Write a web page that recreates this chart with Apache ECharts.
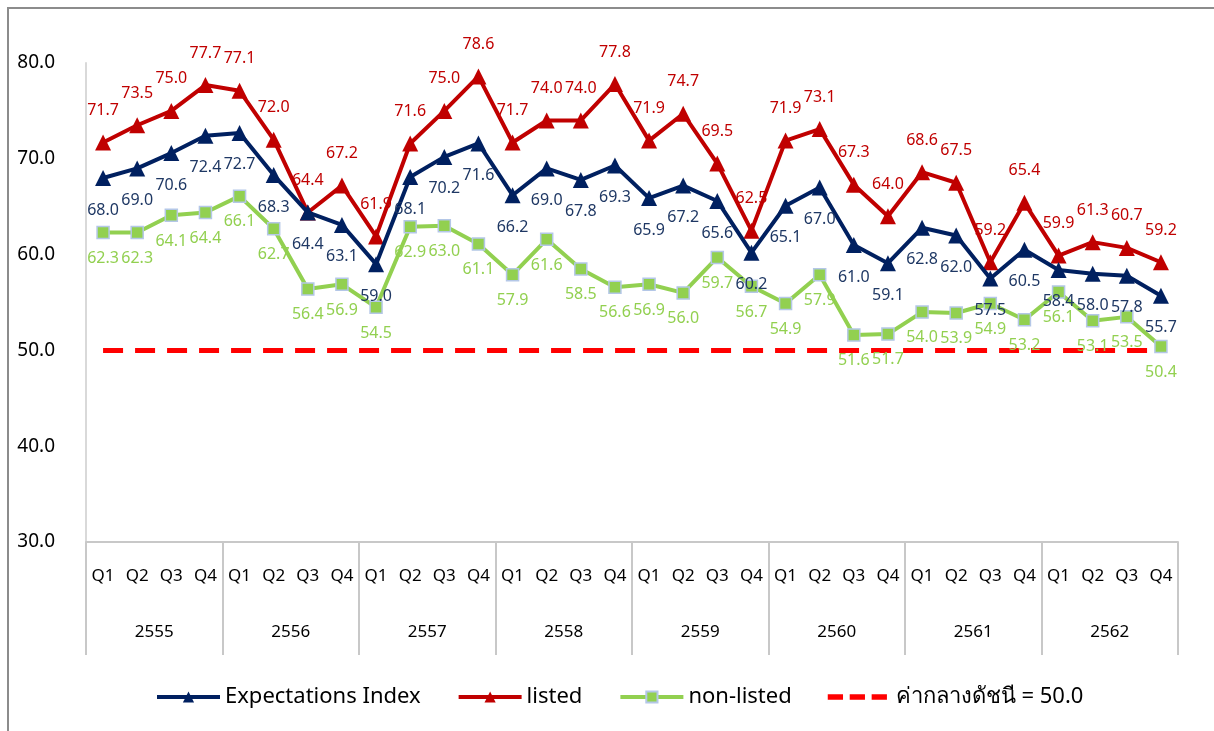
<!DOCTYPE html>
<html>
<head>
<meta charset="utf-8">
<script src="https://cdn.jsdelivr.net/npm/echarts@6/dist/echarts.min.js"></script>
<style>
  html, body { margin: 0; padding: 0; background: #fff; }
  #frame {
    position: absolute; left: 7px; top: 7px; width: 1300px; height: 800px;
    border-left: 2px solid #8c8c8c; border-top: 2px solid #8c8c8c;
  }
  #chart { position: absolute; left: 0; top: 0; width: 1214px; height: 731px; }
</style>
</head>
<body>
<div id="frame"></div>
<div id="chart"></div>
<script>
// ไตรมาส / ปี
const quarters = [];
const years = ['2555', '2556', '2557', '2558', '2559', '2560', '2561', '2562'];
years.forEach(() => quarters.push('Q1', 'Q2', 'Q3', 'Q4'));

// ดัชนีคาดการณ์
const expectations = [
  68.0, 69.0, 70.6, 72.4, 72.7, 68.3, 64.4, 63.1,
  59.0, 68.1, 70.2, 71.6, 66.2, 69.0, 67.8, 69.3,
  65.9, 67.2, 65.6, 60.2, 65.1, 67.0, 61.0, 59.1,
  62.8, 62.0, 57.5, 60.5, 58.4, 58.0, 57.8, 55.7
];
const listed = [
  71.7, 73.5, 75.0, 77.7, 77.1, 72.0, 64.4, 67.2,
  61.9, 71.6, 75.0, 78.6, 71.7, 74.0, 74.0, 77.8,
  71.9, 74.7, 69.5, 62.5, 71.9, 73.1, 67.3, 64.0,
  68.6, 67.5, 59.2, 65.4, 59.9, 61.3, 60.7, 59.2
];
const nonListed = [
  62.3, 62.3, 64.1, 64.4, 66.1, 62.7, 56.4, 56.9,
  54.5, 62.9, 63.0, 61.1, 57.9, 61.6, 58.5, 56.6,
  56.9, 56.0, 59.7, 56.7, 54.9, 57.9, 51.6, 51.7,
  54.0, 53.9, 54.9, 53.2, 56.1, 53.1, 53.5, 50.4
];
const midValue = quarters.map(() => 50.0);

const font = "'Noto Sans', 'DejaVu Sans', sans-serif";
const fmt = p => p.value.toFixed(1);

// ไอคอนเส้นประในคำอธิบาย (เส้นโปร่งบาง ๆ ไว้กำหนดขนาดกรอบ)
const dashIcon = 'path://M0,0h0.01v14h-0.01z M66,0h0.01v14h-0.01z M0,4h16v6h-16z M23,4h16v6h-16z M46,4h16v6h-16z';

const chart = echarts.init(document.getElementById('chart'));
chart.setOption({
  animation: false,
  textStyle: { fontFamily: font },
  grid: { left: 86, right: 36, top: 63, bottom: 189 },
  legend: {
    top: 686,
    left: 155,
    padding: 0,
    itemWidth: 63,
    itemHeight: 14,
    itemGap: 36,
    lineStyle: { width: 4 },
    textStyle: { fontSize: 22, color: '#000', fontFamily: font },
    data: [
      'Expectations Index',
      'listed',
      'non-listed',
      { name: 'ค่ากลางดัชนี = 50.0', icon: dashIcon, itemWidth: 66 }
    ]
  },
  xAxis: [
    {
      type: 'category',
      data: quarters,
      position: 'bottom',
      axisLine: { lineStyle: { color: '#c8c8c8', width: 2 } },
      axisTick: { show: false },
      axisLabel: { margin: 26, fontSize: 17, color: '#000', interval: 0 }
    },
    {
      type: 'category',
      data: years,
      position: 'bottom',
      axisLine: { show: false },
      axisTick: { show: true, length: 113, lineStyle: { color: '#c8c8c8', width: 2 } },
      axisLabel: { margin: 82, fontSize: 17, color: '#000' }
    }
  ],
  yAxis: {
    type: 'value',
    min: 30,
    max: 80,
    interval: 10,
    axisLine: { show: true, lineStyle: { color: '#d9d9d9', width: 2 } },
    axisTick: { show: false },
    splitLine: { show: false },
    axisLabel: { margin: 31, fontSize: 19, color: '#000', formatter: v => v.toFixed(1) }
  },
  series: [
    {
      name: 'ค่ากลางดัชนี = 50.0',
      type: 'line',
      data: midValue,
      symbol: 'none',
      lineStyle: { color: '#ff0000', width: 5, type: [20, 12] },
      itemStyle: { color: '#ff0000' },
      z: 1
    },
    {
      name: 'non-listed',
      type: 'line',
      data: nonListed,
      symbol: 'rect',
      symbolSize: 12,
      lineStyle: { color: '#92d050', width: 4 },
      itemStyle: { color: '#92d050', borderColor: '#b4c7e7', borderWidth: 1.5 },
      label: { show: true, position: 'bottom', distance: 11, fontSize: 16, color: '#92d050', formatter: fmt },
      z: 2
    },
    {
      name: 'listed',
      type: 'line',
      data: listed,
      symbol: 'triangle',
      symbolSize: 16,
      lineStyle: { color: '#c00000', width: 4 },
      itemStyle: { color: '#c00000' },
      label: { show: true, position: 'top', distance: 16, fontSize: 16, color: '#c00000', formatter: fmt },
      z: 3
    },
    {
      name: 'Expectations Index',
      type: 'line',
      data: expectations,
      symbol: 'triangle',
      symbolSize: 16,
      lineStyle: { color: '#002060', width: 4 },
      itemStyle: { color: '#002060' },
      label: { show: true, position: 'bottom', distance: 16, fontSize: 16, color: '#1f3864', formatter: fmt },
      z: 4
    }
  ]
});
</script>
</body>
</html>
